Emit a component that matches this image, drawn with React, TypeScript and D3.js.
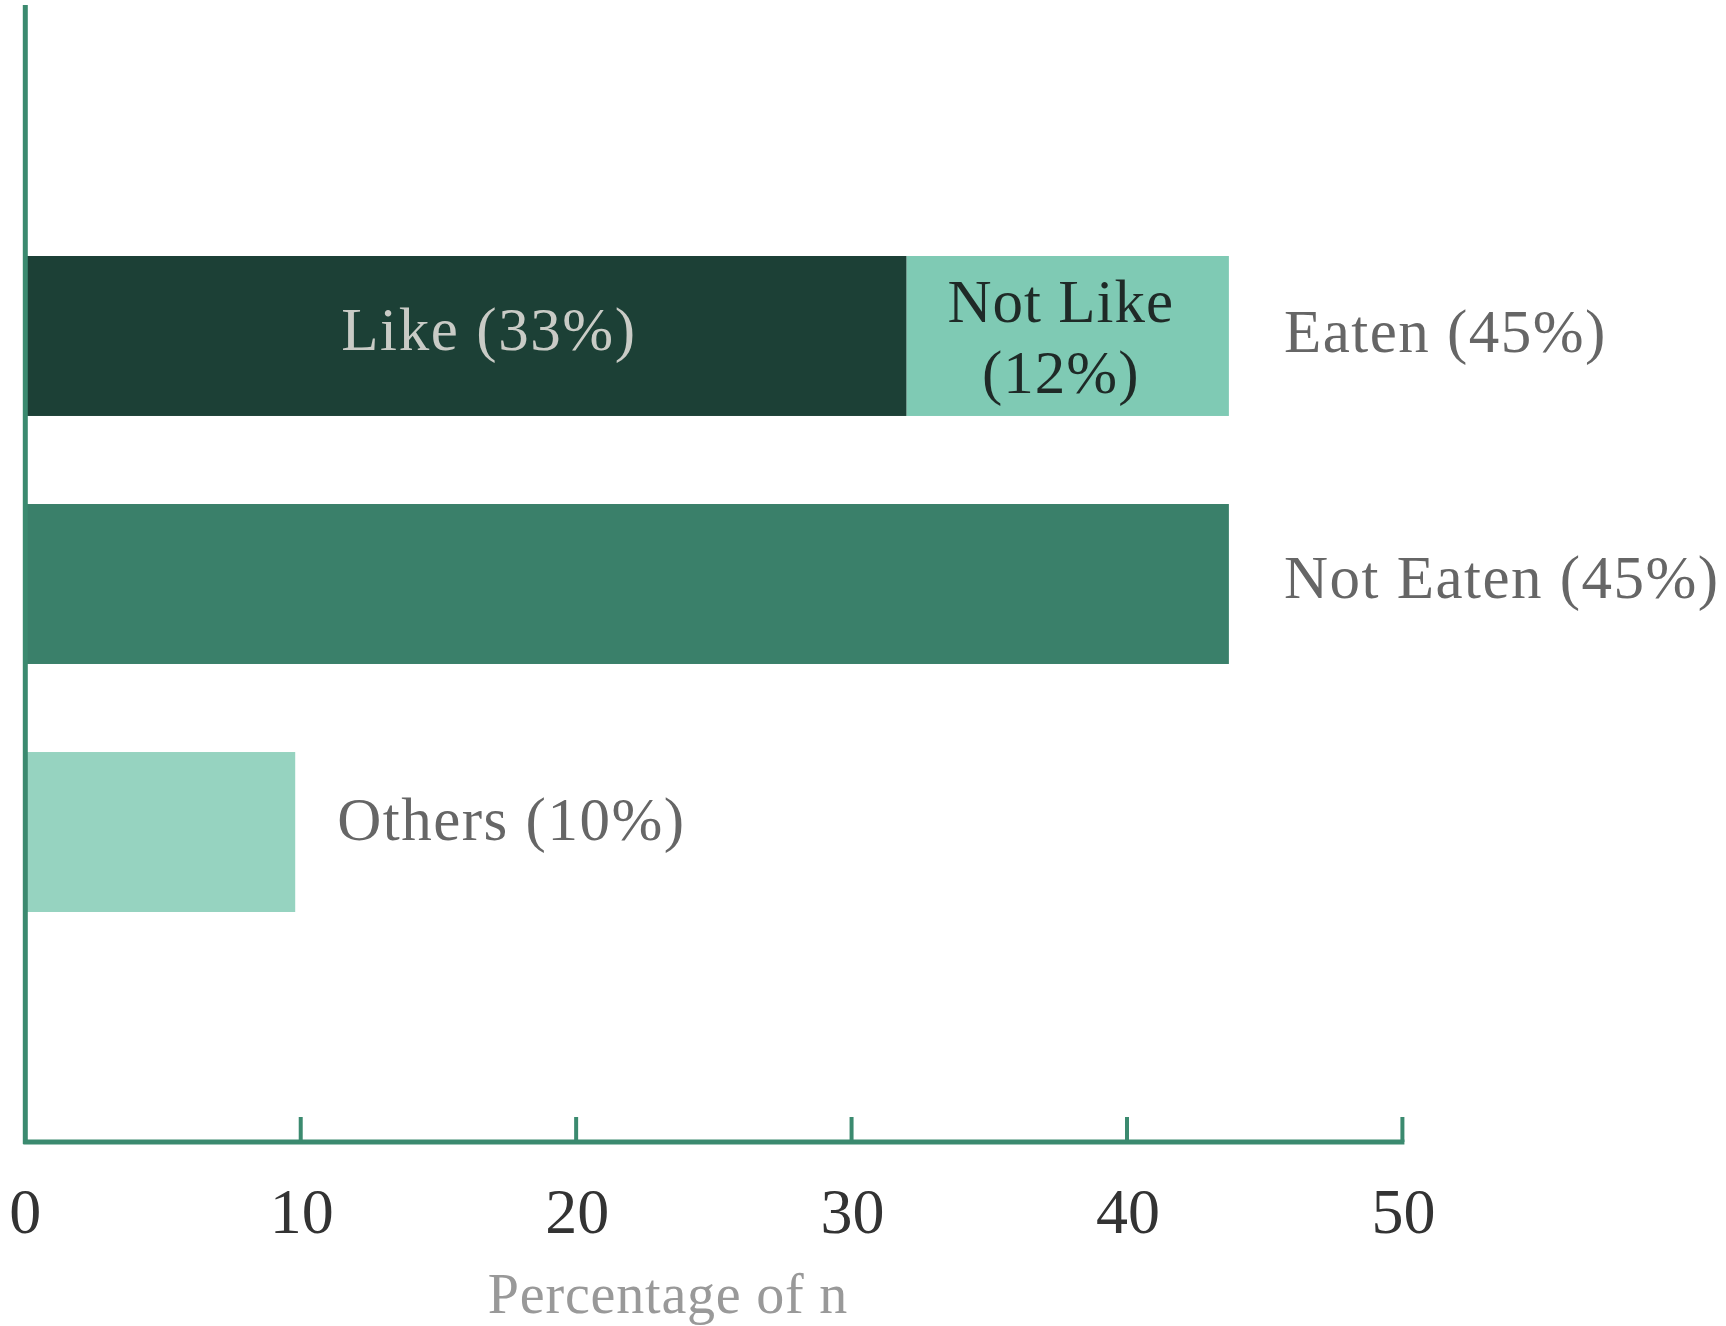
import React from "react";
import * as d3 from "d3";

const categories = ["Eaten", "Not Eaten", "Others"];
const segmentKeys = ["Like", "Not Like", "Not Eaten", "Others"];
const likeValues = [32.0, 0, 0];
const notLikeValues = [11.7, 0, 0];
const notEatenValues = [0, 43.7, 0];
const othersValues = [0, 0, 9.8];
const categoryLabels = ["Eaten (45%)", "Not Eaten (45%)", "Others (10%)"];
const segmentLabels: Record<string, string[]> = {
  Like: ["Like (33%)"],
  "Not Like": ["Not Like", "(12%)"],
};
const xTicks = [0, 10, 20, 30, 40, 50];
const xTitle = "Percentage of n";

const W = 1726;
const H = 1326;
const FONT = "'Liberation Serif', 'Times New Roman', serif";

const segColors: Record<string, string> = {
  Like: "#1c4036",
  "Not Like": "#7fcab4",
  "Not Eaten": "#3a806a",
  Others: "#96d3c0",
};
const segTextColors: Record<string, string> = {
  Like: "#c9cbc6",
  "Not Like": "#1f2a27",
};
const AXIS = "#3b8a6f";

export default function App() {
  const rows = categories.map((c, i) => ({
    category: c,
    Like: likeValues[i],
    "Not Like": notLikeValues[i],
    "Not Eaten": notEatenValues[i],
    Others: othersValues[i],
  }));
  const stacked = d3.stack<any>().keys(segmentKeys)(rows);

  const x = d3.scaleLinear().domain([0, 50]).range([25.3, 1402.4]);
  const y = d3
    .scaleBand()
    .domain(categories)
    .range([256, 912])
    .paddingInner(0.355)
    .paddingOuter(0);

  const axisY = 1142;
  const totals = rows.map((r) => segmentKeys.reduce((s, k) => s + (r as any)[k], 0));
  const labelDy = [16, 14, 8];

  return (
    <div style={{ position: "absolute", left: 0, top: 0 }}>
      <svg width={W} height={H} style={{ display: "block", background: "#fff" }}>
        {stacked.map((layer) =>
          layer.map((d, i) => {
            const w = x(d[1]) - x(d[0]);
            if (w <= 0) return null;
            return (
              <rect
                key={layer.key + i}
                x={x(d[0])}
                y={y(categories[i])!}
                width={w}
                height={y.bandwidth()}
                fill={segColors[layer.key]}
              />
            );
          })
        )}
        {stacked.map((layer) =>
          layer.map((d, i) => {
            const lines = segmentLabels[layer.key];
            if (!lines || d[1] - d[0] <= 0) return null;
            const cx = (x(d[0]) + x(d[1])) / 2 + (layer.key === "Like" ? 23 : -7);
            const cy = y(categories[i])! + y.bandwidth() / 2;
            const lh = 71;
            const base = lines.length > 1 ? cy - 14 : cy + 14;
            return (
              <text
                key={"t" + layer.key + i}
                x={cx}
                textAnchor="middle"
                fontFamily={FONT}
                fontSize={61}
                letterSpacing={lines.length > 1 ? 1.0 : 1.6}
                fill={segTextColors[layer.key]}
              >
                {lines.map((l, j) => (
                  <tspan key={j} x={cx} y={base + j * lh}>
                    {l}
                  </tspan>
                ))}
              </text>
            );
          })
        )}
        {categories.map((c, i) => (
          <text
            key={"cl" + c}
            x={x(totals[i]) + (i === 2 ? 42 : 55)}
            y={y(c)! + y.bandwidth() / 2 + labelDy[i]}
            fontFamily={FONT}
            fontSize={61}
            letterSpacing={1.5}
            fill="#666"
          >
            {categoryLabels[i]}
          </text>
        ))}
        {/* axes */}
        <line x1={x(0)} x2={x(0)} y1={5} y2={axisY + 2} stroke={AXIS} strokeWidth={5} />
        <line x1={x(0) - 2} x2={x(50) + 2} y1={axisY} y2={axisY} stroke={AXIS} strokeWidth={5} />
        {xTicks.filter((t) => t > 0).map((t) => (
          <line key={"tk" + t} x1={x(t)} x2={x(t)} y1={axisY - 25} y2={axisY} stroke={AXIS} strokeWidth={4} />
        ))}
        {xTicks.map((t) => (
          <text
            key={"tl" + t}
            x={x(t) + (t === 0 ? 0 : 1)}
            y={1233}
            textAnchor="middle"
            fontFamily={FONT}
            fontSize={64}
            fill="#333"
          >
            {t}
          </text>
        ))}
        <text
          x={668}
          y={1313}
          textAnchor="middle"
          fontFamily={FONT}
          fontSize={56}
          letterSpacing={0.8}
          fill="#999"
        >
          {xTitle}
        </text>
      </svg>
    </div>
  );
}
